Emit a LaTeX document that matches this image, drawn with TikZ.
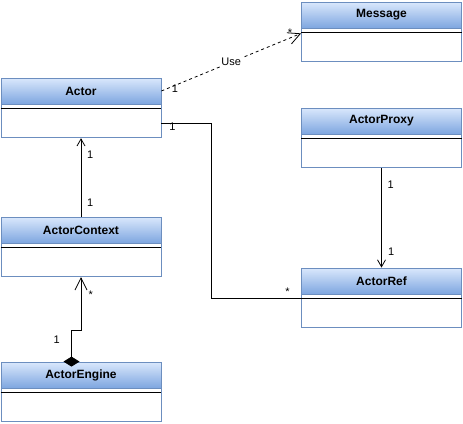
\documentclass[tikz,border=0pt]{standalone}
\usepackage{fontspec}
\setmainfont{Liberation Sans}
\usetikzlibrary{positioning,arrows.meta}
\definecolor{headtop}{HTML}{DAE8FC}
\definecolor{headbot}{HTML}{7EA6E0}
\definecolor{boxline}{HTML}{6C8EBF}
\newcommand{\lb}{\fontsize{11}{13}\selectfont}

\begin{document}
\begin{tikzpicture}[x=1pt,y=-1pt,line width=0.8pt,
   head/.style={draw=boxline,top color=headtop,bottom color=headbot,
      minimum width=160pt,minimum height=26pt,inner sep=0pt,
      font=\bfseries\fontsize{12}{14}\selectfont},
   body/.style={draw=boxline,fill=white,
      minimum width=160pt,minimum height=33pt,inner sep=0pt},
   lbl/.style={font=\lb,inner sep=0pt,anchor=base},
   open/.style={-{Straight Barb[length=7pt,width=8pt]}},
   bigopen/.style={-{Straight Barb[length=12pt,width=12pt]}}]
   \useasboundingbox (0,0) rectangle (463,423);
   % classes
   \node[head] (message) at (381.5,15) {Message};
   \node[body,below=0pt of message] (messagebody) {};
   \draw ([yshift=-4pt]messagebody.north west) -- ([yshift=-4pt]messagebody.north east);
   \node[head] (actor) at (81,91) {Actor};
   \node[body,below=0pt of actor] (actorbody) {};
   \draw ([yshift=-4pt]actorbody.north west) -- ([yshift=-4pt]actorbody.north east);
   \node[head] (proxy) at (381.5,121) {ActorProxy};
   \node[body,below=0pt of proxy] (proxybody) {};
   \draw ([yshift=-4pt]proxybody.north west) -- ([yshift=-4pt]proxybody.north east);
   \node[head] (context) at (81,230) {ActorContext};
   \node[body,below=0pt of context] (contextbody) {};
   \draw ([yshift=-4pt]contextbody.north west) -- ([yshift=-4pt]contextbody.north east);
   \node[head] (ref) at (381.5,281) {ActorRef};
   \node[body,below=0pt of ref] (refbody) {};
   \draw ([yshift=-4pt]refbody.north west) -- ([yshift=-4pt]refbody.north east);
   \node[head] (engine) at (81,375) {ActorEngine};
   \node[body,below=0pt of engine] (enginebody) {};
   \draw ([yshift=-4pt]enginebody.north west) -- ([yshift=-4pt]enginebody.north east);
   % Actor uses Message
   \draw[dash pattern=on 3pt off 3pt,bigopen] (actor.east)
      -- node[font=\lb,fill=white,inner sep=1pt] (use) {Use} ([yshift=-5pt]messagebody.north west);
   \node[lbl] (use1) at ([xshift=13.5pt,yshift=-1pt]actor.east) {1};
   \node[lbl] (usestar) at ([xshift=-11pt,yshift=-8.4pt]messagebody.north west) {*};
   % Actor to ActorRef
   \draw ([yshift=-2pt]actorbody.east) -- ++(50,0) |- ([yshift=-4pt]refbody.north west);
   \node[lbl] (ref1) at ([xshift=11pt,yshift=-8.8pt]actorbody.east) {1};
   \node[lbl] (refstar) at ([xshift=-13.7pt,yshift=-1.4pt]refbody.north west) {*};
   % ActorContext to Actor
   \draw[open] (context.north) -- (actorbody.south);
   \node[lbl] (ctx1) at ([xshift=9.3pt,yshift=-20.3pt]actorbody.south) {1};
   \node[lbl] (ctx2) at ([xshift=9.3pt,yshift=9.7pt]context.north) {1};
   % ActorProxy to ActorRef
   \draw[open] (proxybody.south) -- (ref.north);
   \node[lbl] (prx1) at ([xshift=9.2pt,yshift=-20.3pt]proxybody.south) {1};
   \node[lbl] (prx2) at ([xshift=9.8pt,yshift=12pt]ref.north) {1};
   % ActorEngine holds ActorContext
   \draw[{Diamond[length=10pt,width=16pt]}-{Straight Barb[length=12pt,width=12pt]},shorten <=-5pt]
      ([xshift=-9.5pt]engine.north) -- ++(0,-31) -| (contextbody.south);
   \node[lbl] (eng1) at ([xshift=-24.3pt,yshift=17.7pt]engine.north) {1};
   \node[lbl] (engstar) at ([xshift=9.7pt,yshift=-21.7pt]contextbody.south) {*};
\end{tikzpicture}
\end{document}
